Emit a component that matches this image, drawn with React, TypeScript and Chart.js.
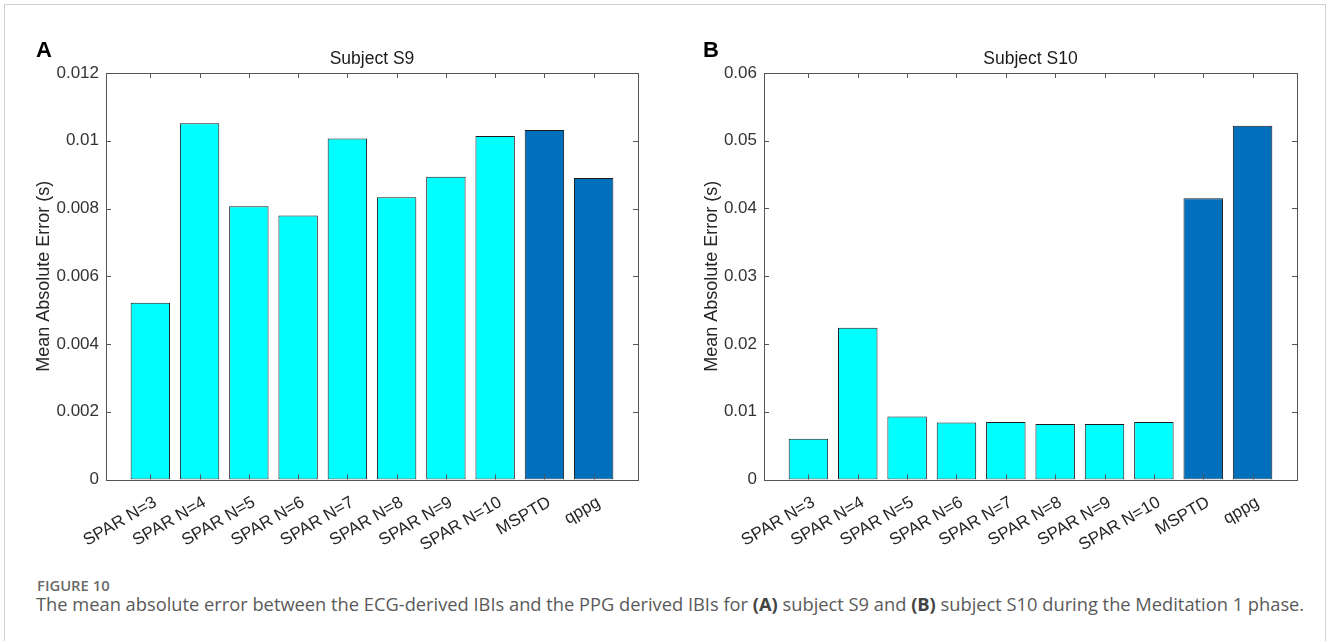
import React, { useEffect, useRef } from "react";
import { Chart, registerables } from "chart.js";

Chart.register(...registerables);

// Method names along the x axis (shared by both panels)
const categories = [
  "SPAR N=3",
  "SPAR N=4",
  "SPAR N=5",
  "SPAR N=6",
  "SPAR N=7",
  "SPAR N=8",
  "SPAR N=9",
  "SPAR N=10",
  "MSPTD",
  "qppg",
];

// Mean absolute error (s), subject S9
const maeS9 = [0.00522, 0.01052, 0.00807, 0.00779, 0.01007, 0.00833, 0.00894, 0.01014, 0.01032, 0.0089];
// Mean absolute error (s), subject S10
const maeS10 = [0.006, 0.0224, 0.0093, 0.0084, 0.0085, 0.0082, 0.0082, 0.0085, 0.0415, 0.0522];

// Y tick values for each panel
const yTicksS9 = [0, 0.002, 0.004, 0.006, 0.008, 0.01, 0.012];
const yTicksS10 = [0, 0.01, 0.02, 0.03, 0.04, 0.05, 0.06];

const SPAR_COLOR = "#00FFFF";
const REF_COLOR = "#0070BD";
const barColors = categories.map((c) => (c.startsWith("SPAR") ? SPAR_COLOR : REF_COLOR));

const FONT = "'Liberation Sans', Arial, Helvetica, sans-serif";
const fmt = (v: number) => String(parseFloat(Number(v).toPrecision(6)));

// Draws the closed axes box, inward tick marks, the panel title and the panel letter
const boxPlugin = {
  id: "axesBox",
  afterDatasetsDraw(chart: any, _args: any, opts: any) {
    const { ctx, chartArea, scales } = chart;
    const { left, right, top, bottom } = chartArea;
    const x = scales.x;
    const y = scales.y;
    const tl = 5;
    ctx.save();
    ctx.strokeStyle = "#555555";
    ctx.lineWidth = 1;
    ctx.beginPath();
    x.ticks.forEach((t: any) => {
      const px = Math.round(x.getPixelForValue(t.value)) + 0.5;
      ctx.moveTo(px, bottom);
      ctx.lineTo(px, bottom - tl);
      ctx.moveTo(px, top);
      ctx.lineTo(px, top + tl);
    });
    y.ticks.forEach((t: any) => {
      const py = Math.round(y.getPixelForValue(t.value)) + 0.5;
      ctx.moveTo(left, py);
      ctx.lineTo(left + tl, py);
      ctx.moveTo(right, py);
      ctx.lineTo(right - tl, py);
    });
    ctx.stroke();
    ctx.strokeRect(Math.round(left) + 0.5, Math.round(top) + 0.5, Math.round(right - left), Math.round(bottom - top));

    ctx.fillStyle = "#1a1a1a";
    ctx.font = `17.5px ${FONT}`;
    ctx.textAlign = "center";
    ctx.textBaseline = "alphabetic";
    ctx.fillText(opts.title, (left + right) / 2, opts.titleY);

    ctx.fillStyle = "#000000";
    ctx.font = `bold 22px ${FONT}`;
    ctx.textAlign = "left";
    ctx.fillText(opts.letter, opts.letterX, opts.letterY);
    ctx.restore();
  },
};

type PanelProps = {
  values: number[];
  yTicks: number[];
  title: string;
  letter: string;
  left: number;
  width: number;
  height: number;
  yAxisWidth: number;
  rightPad: number;
  yTitlePad: number;
  letterX: number;
};

function Panel(p: PanelProps) {
  const ref = useRef<HTMLCanvasElement | null>(null);

  useEffect(() => {
    if (!ref.current) return;
    const chart = new Chart(ref.current, {
      type: "bar",
      data: {
        datasets: [
          {
            data: p.values.map((v, i) => ({ x: i + 1, y: v })),
            backgroundColor: barColors,
            borderColor: "#1a1a1a",
            borderWidth: 1,
            borderSkipped: false,
            barPercentage: 0.8,
            categoryPercentage: 1,
          },
        ],
      },
      options: {
        animation: false,
        responsive: false,
        maintainAspectRatio: false,
        events: [],
        layout: { padding: { top: 73, right: p.rightPad, bottom: 0, left: 0 } },
        plugins: {
          legend: { display: false },
          tooltip: { enabled: false },
          title: { display: false },
          axesBox: {
            title: p.title,
            titleY: 64,
            letter: p.letter,
            letterX: p.letterX,
            letterY: 57,
          },
        } as any,
        scales: {
          x: {
            type: "linear",
            min: 0.1,
            max: 10.9,
            offset: false,
            grid: { display: false, drawTicks: false, offset: false },
            border: { display: false },
            afterBuildTicks: (s: any) => {
              s.ticks = categories.map((_, i) => ({ value: i + 1 }));
            },
            afterFit: (s: any) => {
              s.height = p.height - 479.5;
            },
            ticks: {
              autoSkip: false,
              minRotation: 30,
              maxRotation: 30,
              padding: 13,
              showLabelBackdrop: true,
              backdropColor: "rgba(0,0,0,0)",
              backdropPadding: 0,
              color: "#262626",
              font: { family: FONT, size: 17 },
              callback: (v: any) => categories[Math.round(Number(v)) - 1] ?? "",
            },
          },
          y: {
            type: "linear",
            min: p.yTicks[0],
            max: p.yTicks[p.yTicks.length - 1],
            grid: { display: false, drawTicks: false },
            border: { display: false },
            afterBuildTicks: (s: any) => {
              s.ticks = p.yTicks.map((v) => ({ value: v }));
            },
            afterFit: (s: any) => {
              s.width = p.yAxisWidth;
            },
            ticks: {
              padding: 7,
              color: "#333333",
              font: { family: FONT, size: 17 },
              callback: (v: any) => fmt(Number(v)),
            },
            title: {
              display: true,
              text: "Mean Absolute Error (s)",
              color: "#262626",
              font: { family: FONT, size: 18 },
              padding: { top: p.yTitlePad, bottom: 0 },
            },
          },
        },
      },
      plugins: [boxPlugin],
    } as any);
    return () => chart.destroy();
  }, []);

  return (
    <canvas
      ref={ref}
      width={p.width}
      height={p.height}
      style={{ position: "absolute", left: p.left, top: 0, width: p.width, height: p.height, display: "block" }}
    />
  );
}

const CAPTION_FONT = "'Open Sans', 'Noto Sans', sans-serif";

export default function App() {
  return (
    <div
      style={{
        position: "absolute",
        left: 0,
        top: 0,
        width: 1328,
        height: 641,
        overflow: "hidden",
        background: "#ffffff",
      }}
    >
      <div
        style={{
          position: "absolute",
          left: 4,
          top: 4,
          width: 1322,
          height: 720,
          border: "1px solid #d0d0d0",
          boxSizing: "border-box",
        }}
      />
      <Panel
        values={maeS9}
        yTicks={yTicksS9}
        title="Subject S9"
        letter="A"
        left={0}
        width={664}
        height={560}
        yAxisWidth={106}
        rightPad={26}
        yTitlePad={33}
        letterX={36}
      />
      <Panel
        values={maeS10}
        yTicks={yTicksS10}
        title="Subject S10"
        letter="B"
        left={664}
        width={664}
        height={560}
        yAxisWidth={100}
        rightPad={31}
        yTitlePad={37}
        letterX={39}
      />
      <div
        style={{
          position: "absolute",
          left: 37,
          top: 577,
          fontFamily: CAPTION_FONT,
          fontSize: 14.8,
          lineHeight: "16px",
          fontWeight: 600,
          color: "#6a6a6a",
          whiteSpace: "nowrap",
        }}
      >
        FIGURE 10
      </div>
      <div
        style={{
          position: "absolute",
          left: 36,
          top: 593,
          fontFamily: CAPTION_FONT,
          fontSize: 18.3,
          lineHeight: "22px",
          color: "#5a5a5a",
          whiteSpace: "nowrap",
        }}
      >
        The mean absolute error between the ECG-derived IBIs and the PPG derived IBIs for{" "}
        <b style={{ fontWeight: 700, color: "#444" }}>(A)</b> subject S9 and{" "}
        <b style={{ fontWeight: 700, color: "#444" }}>(B)</b> subject S10 during the Meditation 1 phase.
      </div>
    </div>
  );
}
